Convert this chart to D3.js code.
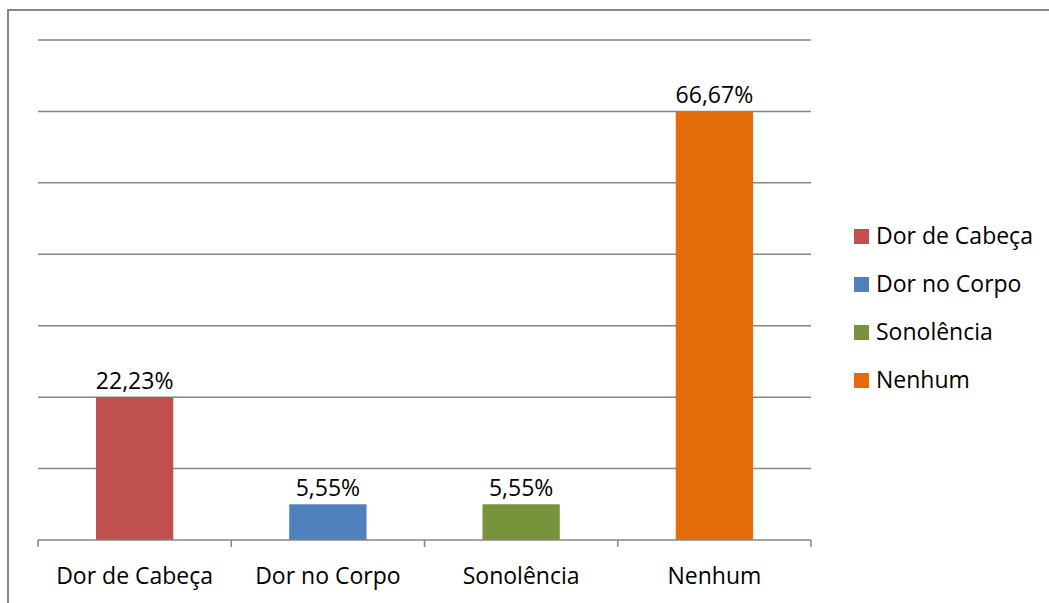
<!DOCTYPE html>
<html>
<head>
<meta charset="utf-8">
<script src="https://cdn.jsdelivr.net/npm/d3@7"></script>
<style>
  html, body { margin: 0; padding: 0; background: #fff; }
  svg { display: block; font-family: "Open Sans", "Noto Sans", sans-serif; }
</style>
</head>
<body>
<svg id="chart" width="1049" height="603"></svg>
<script>
// categories and answer counts (out of 18), labels as shown on the bars
var categories = ["Dor de Cabeça", "Dor no Corpo", "Sonolência", "Nenhum"];
var counts = [4, 1, 1, 12];
var valueLabels = ["22,23%", "5,55%", "5,55%", "66,67%"];
var colors = ["#C0504D", "#4F81BD", "#77933C", "#E46C0A"];
var yTicks = [0, 2, 4, 6, 8, 10, 12, 14];

var svg = d3.select("#chart");
var gridColor = "#868686";
var fontSize = 23;

// outer frame (cut off at right and bottom like the original)
svg.append("rect")
    .attr("x", 8).attr("y", 10)
    .attr("width", 1060).attr("height", 620)
    .attr("fill", "none")
    .attr("stroke", gridColor)
    .attr("stroke-width", 2);

var plotLeft = 38, plotRight = 811, plotTop = 40, plotBottom = 540;

var x = d3.scaleBand()
    .domain(categories)
    .range([plotLeft, plotRight])
    .paddingInner(0.6)
    .paddingOuter(0.3);

var y = d3.scaleLinear()
    .domain([0, 14])
    .range([plotBottom, plotTop]);

// gridlines
svg.append("g")
    .selectAll("line")
    .data(yTicks.filter(function(d) { return d > 0; }))
    .join("line")
    .attr("x1", plotLeft).attr("x2", plotRight)
    .attr("y1", function(d) { return y(d); })
    .attr("y2", function(d) { return y(d); })
    .attr("stroke", gridColor)
    .attr("stroke-width", 1.5);

// bars
svg.append("g")
    .selectAll("rect")
    .data(counts)
    .join("rect")
    .attr("x", function(d, i) { return x(categories[i]); })
    .attr("y", function(d) { return y(d); })
    .attr("width", x.bandwidth())
    .attr("height", function(d) { return y(0) - y(d); })
    .attr("fill", function(d, i) { return colors[i]; });

// value labels
svg.append("g")
    .selectAll("text")
    .data(counts)
    .join("text")
    .attr("x", function(d, i) { return x(categories[i]) + x.bandwidth() / 2; })
    .attr("y", function(d) { return y(d) - 8; })
    .attr("text-anchor", "middle")
    .attr("font-size", fontSize)
    .attr("fill", "#000")
    .text(function(d, i) { return valueLabels[i]; });

// x axis line and ticks between categories
var bandStep = (plotRight - plotLeft) / categories.length;
var tickPos = d3.range(categories.length + 1).map(function(i) { return plotLeft + i * bandStep; });
svg.append("line")
    .attr("x1", plotLeft).attr("x2", plotRight)
    .attr("y1", plotBottom).attr("y2", plotBottom)
    .attr("stroke", gridColor)
    .attr("stroke-width", 1.5);
svg.append("g")
    .selectAll("line")
    .data(tickPos)
    .join("line")
    .attr("x1", function(d) { return d; }).attr("x2", function(d) { return d; })
    .attr("y1", plotBottom).attr("y2", plotBottom + 7)
    .attr("stroke", gridColor)
    .attr("stroke-width", 1.5);

// category labels
svg.append("g")
    .selectAll("text")
    .data(categories)
    .join("text")
    .attr("x", function(d) { return x(d) + x.bandwidth() / 2; })
    .attr("y", 584)
    .attr("text-anchor", "middle")
    .attr("font-size", fontSize)
    .attr("fill", "#000")
    .text(function(d) { return d; });

// legend
var legend = svg.append("g")
    .selectAll("g")
    .data(categories)
    .join("g")
    .attr("transform", function(d, i) { return "translate(854," + (229 + i * 48) + ")"; });
legend.append("rect")
    .attr("width", 15).attr("height", 15)
    .attr("fill", function(d, i) { return colors[i]; });
legend.append("text")
    .attr("x", 22).attr("y", 15)
    .attr("font-size", fontSize)
    .attr("fill", "#000")
    .text(function(d) { return d; });
</script>
</body>
</html>
